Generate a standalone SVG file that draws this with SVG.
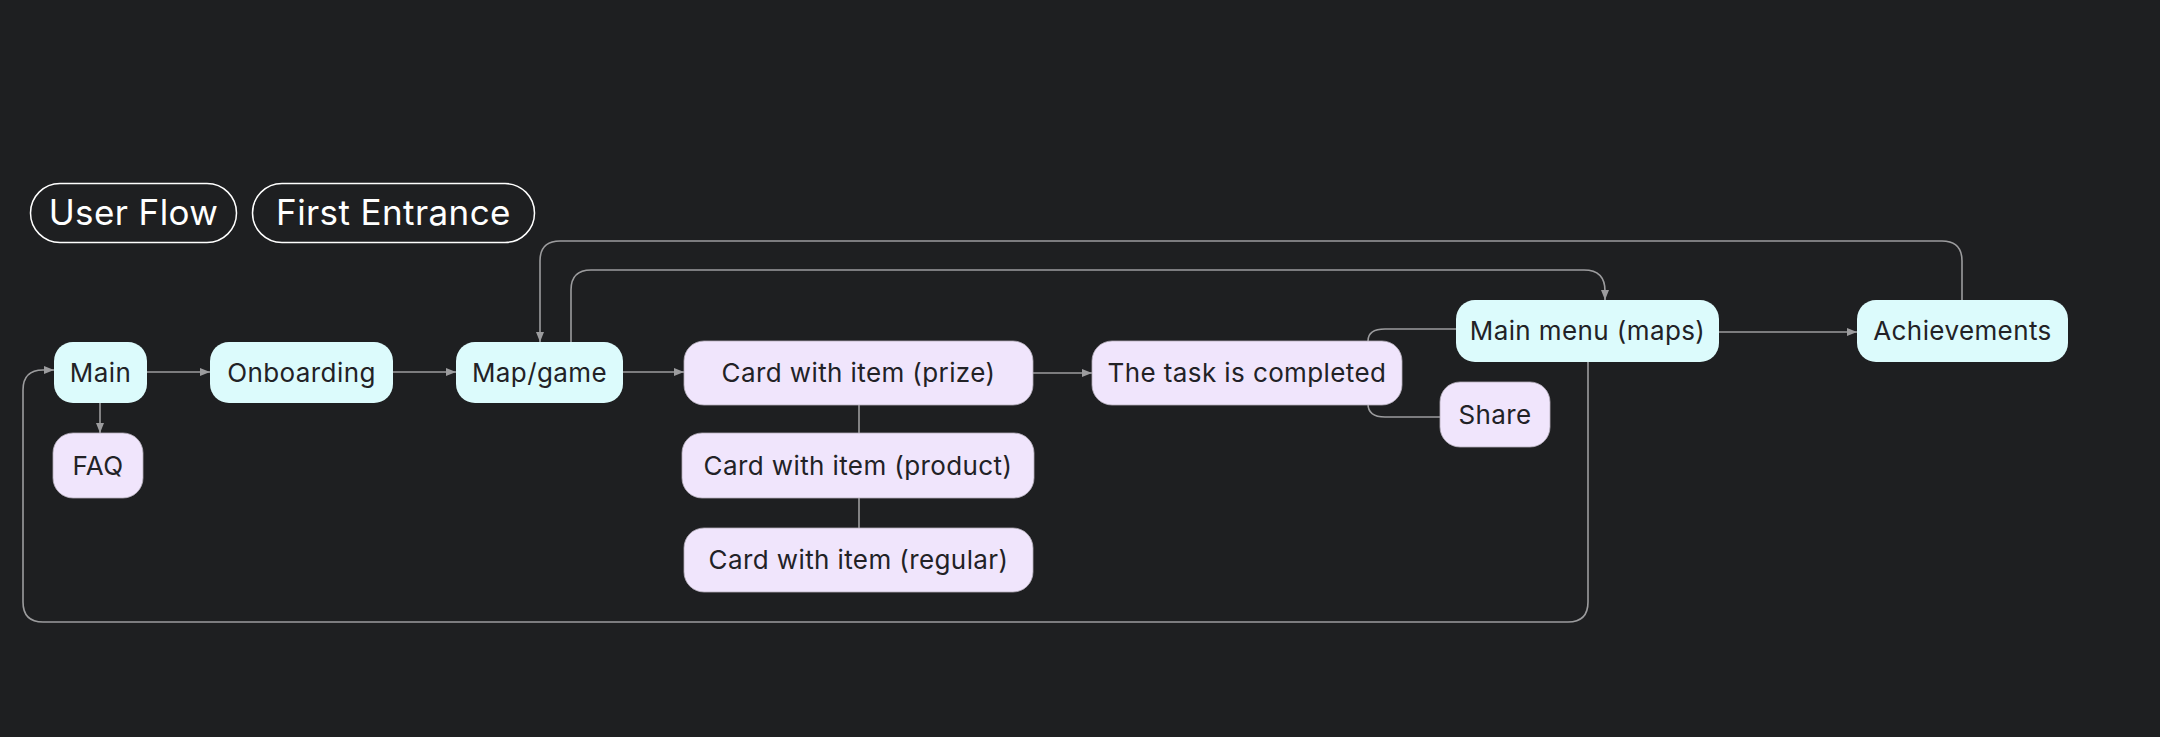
<svg xmlns="http://www.w3.org/2000/svg" width="2160" height="737" viewBox="0 0 2160 737">
<defs>
<style>
.bg{fill:#1e1f21}
.pill{fill:none;stroke:#ffffff;stroke-width:1.5}
.ptxt{fill:#ffffff;font-family:Inter,"Noto Sans",sans-serif;font-size:35px;letter-spacing:0.4px;text-anchor:middle}
.cy{fill:#dcfbfc}
.pu{fill:#f0e5fc;stroke:#b4adba;stroke-width:0.8}
.txt{fill:#222226;font-family:Inter,"Noto Sans",sans-serif;font-size:26px;letter-spacing:0.4px;text-anchor:middle}
.edge{fill:none;stroke:#9c9c9e;stroke-width:1.6}
.arr{marker-end:url(#ah)}
</style>
<marker id="ah" viewBox="0 0 10 10" refX="10" refY="5" markerWidth="10" markerHeight="10" markerUnits="userSpaceOnUse" orient="auto">
<path d="M0,1 L10,5 L0,9 z" fill="#9c9c9e"/>
</marker>
</defs>
<rect class="bg" x="0" y="0" width="2160" height="737"/>

<g id="title-user-flow">
<rect class="pill" x="30.5" y="183.5" width="206" height="59" rx="29.5"/>
<text class="ptxt" x="133.5" y="225">User Flow</text>
</g>
<g id="title-first-entrance">
<rect class="pill" x="252.5" y="183.5" width="282" height="59" rx="29.5"/>
<text class="ptxt" x="393.5" y="225">First Entrance</text>
</g>

<g id="connectors">
<path class="edge arr" d="M147,372 H210"/>
<path class="edge arr" d="M100,403 V433"/>
<path class="edge arr" d="M393,372 H456"/>
<path class="edge arr" d="M623,372 H684"/>
<path class="edge" d="M859,405 V433"/>
<path class="edge" d="M859,498 V528"/>
<path class="edge arr" d="M1033,373 H1092"/>
<path class="edge" d="M1368,341 Q1368,329 1385,329 H1456"/>
<path class="edge" d="M1368,404 Q1368,417 1385,417 H1440"/>
<path class="edge arr" d="M571,342 V290 Q571,270 591,270 H1584 Q1605,270 1605,291 V300"/>
<path class="edge arr" d="M1719,332 H1857"/>
<path class="edge arr" d="M1962,300 V261 Q1962,241 1942,241 H560 Q540,241 540,261 V342"/>
<path class="edge arr" d="M1588,362 V602 Q1588,622 1568,622 H43 Q23,622 23,602 V390 Q23,370 43,370 H54"/>
</g>

<g id="node-main">
<rect class="cy" x="54" y="342" width="93" height="61" rx="19"/>
<text class="txt" x="100.5" y="381.5">Main</text>
</g>
<g id="node-faq">
<rect class="pu" x="53" y="433" width="90" height="65" rx="20"/>
<text class="txt" x="98" y="474.5">FAQ</text>
</g>
<g id="node-onboarding">
<rect class="cy" x="210" y="342" width="183" height="61" rx="19"/>
<text class="txt" x="301.5" y="381.5">Onboarding</text>
</g>
<g id="node-map-game">
<rect class="cy" x="456" y="342" width="167" height="61" rx="19"/>
<text class="txt" x="539.5" y="381.5">Map/game</text>
</g>
<g id="node-card-prize">
<rect class="pu" x="684" y="341" width="349" height="64" rx="20"/>
<text class="txt" x="858.5" y="381.5">Card with item (prize)</text>
</g>
<g id="node-card-product">
<rect class="pu" x="682" y="433" width="352" height="65" rx="20"/>
<text class="txt" x="858" y="474.5">Card with item (product)</text>
</g>
<g id="node-card-regular">
<rect class="pu" x="684" y="528" width="349" height="64" rx="20"/>
<text class="txt" x="858.5" y="568.5">Card with item (regular)</text>
</g>
<g id="node-task-completed">
<rect class="pu" x="1092" y="341" width="310" height="64" rx="20"/>
<text class="txt" x="1247" y="381.5">The task is completed</text>
</g>
<g id="node-main-menu">
<rect class="cy" x="1456" y="300" width="263" height="62" rx="19"/>
<text class="txt" x="1587.5" y="339.5">Main menu (maps)</text>
</g>
<g id="node-share">
<rect class="pu" x="1440" y="382" width="110" height="65" rx="20"/>
<text class="txt" x="1495" y="423.5">Share</text>
</g>
<g id="node-achievements">
<rect class="cy" x="1857" y="300" width="211" height="62" rx="19"/>
<text class="txt" x="1962.5" y="339.5">Achievements</text>
</g>
</svg>
